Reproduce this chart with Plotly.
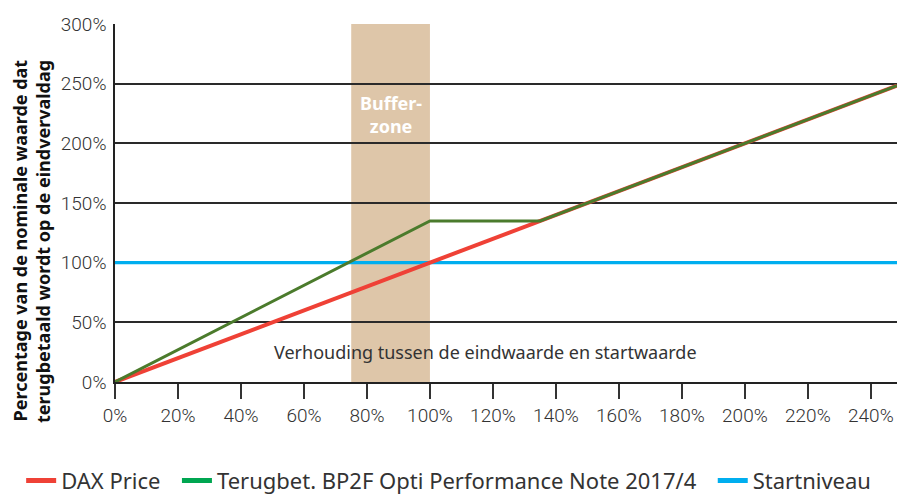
import plotly.graph_objects as go

# Data (percentages)
dax_x = [0, 100, 135, 248.3]
dax_y = [0, 100, 135, 248.3]
note_x = [0, 100, 135, 248.3]
note_y = [0, 135, 135, 248.3]
start_x = [0, 248.3]
start_y = [100, 100]
buffer_start = 75
buffer_end = 100
x_ticks = [0, 20, 40, 60, 80, 100, 120, 140, 160, 180, 200, 220, 240]
y_ticks = [0, 50, 100, 150, 200, 250, 300]
names = ["DAX Price", "Terugbet. BP2F Opti Performance Note 2017/4", "Startniveau"]

RED = "#ef4136"
OLIVE = "#4b7b2c"
GREEN = "#00a651"
BLUE = "#00aeef"
TXT = "#333333"
TICKFONT = dict(family="Roboto", size=19, color=TXT, weight=300)
PAD = "\u00a0\u00a0"

fig = go.Figure()
fig.add_trace(go.Scatter(x=start_x, y=start_y, mode="lines", line=dict(color=BLUE, width=3.2),
                         showlegend=False, hoverinfo="skip"))
fig.add_trace(go.Scatter(x=dax_x, y=dax_y, mode="lines", line=dict(color=RED, width=4),
                         showlegend=False, hoverinfo="skip"))
fig.add_trace(go.Scatter(x=note_x, y=note_y, mode="lines", line=dict(color=OLIVE, width=3),
                         showlegend=False, hoverinfo="skip"))
# legend entries
for i, (n, c) in enumerate(zip(names, [RED, GREEN, BLUE])):
    label = n + (PAD if i < len(names) - 1 else "")
    fig.add_trace(go.Scatter(x=[None], y=[None], mode="lines", name=label,
                             line=dict(color=c, width=5)))

fig.add_shape(type="rect", xref="x", yref="paper", x0=buffer_start, x1=buffer_end, y0=0, y1=1,
              fillcolor="#dec6a9", line=dict(width=0), layer="below")

fig.add_annotation(x=(buffer_start + buffer_end) / 2, y=224, xref="x", yref="y",
                   text="<b>Buffer-<br>zone</b>", showarrow=False,
                   font=dict(family="Noto Sans", size=18, color="white"), align="center")
fig.add_annotation(x=117.5, y=25, xref="x", yref="y",
                   text="Verhouding tussen de eindwaarde en startwaarde", showarrow=False,
                   font=dict(family="Noto Sans", size=18, color=TXT))
fig.add_annotation(x=-0.107, y=0.392, xref="paper", yref="paper",
                   text="<b>Percentage van de nominale waarde dat<br>terugbetaald wordt op de eindvervaldag</b>",
                   textangle=-90, showarrow=False, align="right",
                   xanchor="center", yanchor="middle",
                   font=dict(family="Noto Sans", size=18, color="#111111"))

fig.update_layout(
    width=898, height=495,
    margin=dict(l=115, r=1, t=24, b=113, autoexpand=False),
    paper_bgcolor="white", plot_bgcolor="white",
    showlegend=True,
    legend=dict(orientation="h", xref="paper", yref="paper",
                x=-0.12, y=-0.276, xanchor="left", yanchor="middle",
                font=dict(family="Noto Sans", size=22, color=TXT),
                bgcolor="rgba(0,0,0,0)"),
    xaxis=dict(range=[0, 248.3], tickvals=x_ticks, ticktext=[f"{v}%" for v in x_ticks],
               showgrid=False, zeroline=False, showline=True, linecolor="#222222", linewidth=1.5,
               ticks="outside", ticklen=15, tickwidth=1.5, tickcolor="#333333",
               automargin=False, tickfont=TICKFONT),
    yaxis=dict(range=[0, 300], tickvals=y_ticks, ticktext=[f"{v}%" for v in y_ticks],
               showgrid=True, gridcolor="#2a2a2a", gridwidth=1.5, zeroline=False,
               showline=True, linecolor="#222222", linewidth=1.5, ticks="",
               ticklabelstandoff=3, automargin=False, tickfont=TICKFONT),
)

fig.write_html("out.html", config={"displayModeBar": False},
               post_script="document.body.style.margin='0';")
